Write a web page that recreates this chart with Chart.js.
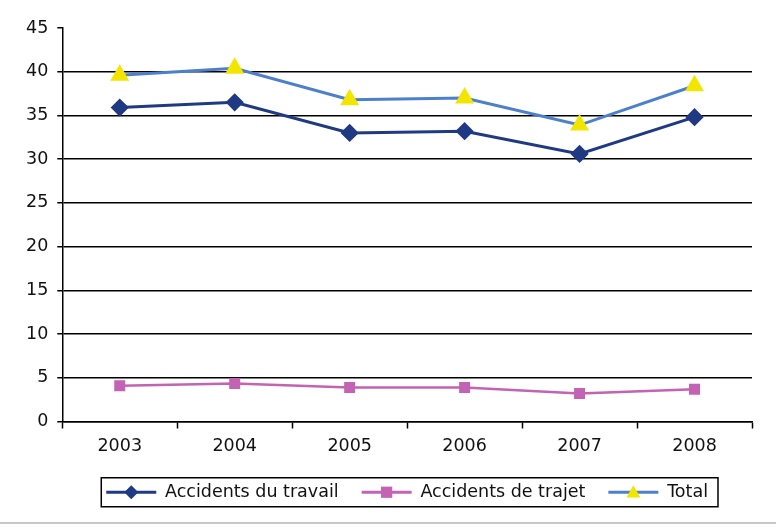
<!DOCTYPE html>
<html lang="fr">
<head>
<meta charset="UTF-8">
<title>Accidents du travail et de trajet</title>
<script src="https://cdn.jsdelivr.net/npm/chart.js@4.4.1/dist/chart.umd.min.js"></script>
<style>
    body {
        margin: 0;
        background: #fff;
    }
    #wrap {
        width: 776px;
        height: 532px;
    }
</style>
</head>
<body>
<div id="wrap"><canvas id="chart" width="776" height="532"></canvas></div>
<script>
const years = ['2003', '2004', '2005', '2006', '2007', '2008'];
const travail = [35.9, 36.5, 33.0, 33.2, 30.6, 34.8];
const trajet = [4.1, 4.35, 3.9, 3.9, 3.2, 3.7];
const total = [39.6, 40.4, 36.8, 37.0, 33.9, 38.4];
const seriesNames = ['Accidents du travail', 'Accidents de trajet', 'Total'];

const navy = '#1f3a82';
const pink = '#c462b4';
const steel = '#4d80cc';
const yellow = '#f2e600';
const fontName = 'DejaVu Sans';

// draws a small marker for the legend (line + point look)
function drawMarker(ctx, style, x, y, r, color) {
    ctx.fillStyle = color;
    ctx.beginPath();
    if (style === 'rectRot') {
        ctx.moveTo(x, y - r);
        ctx.lineTo(x + r, y);
        ctx.lineTo(x, y + r);
        ctx.lineTo(x - r, y);
    } else if (style === 'rect') {
        ctx.rect(x - r * 0.8, y - r * 0.8, r * 1.6, r * 1.6);
    } else {
        ctx.moveTo(x, y - r);
        ctx.lineTo(x + r, y + r * 0.75);
        ctx.lineTo(x - r, y + r * 0.75);
    }
    ctx.closePath();
    ctx.fill();
}

const legendDeco = {
    id: 'legendDeco',
    afterDraw(chart) {
        const ctx = chart.ctx;
        const lg = chart.legend;
        const boxes = lg.legendHitBoxes;
        const bw = lg.options.labels.boxWidth;
        ctx.save();
        let cy = 0;
        boxes.forEach((b, i) => {
            const ds = chart.data.datasets[i];
            cy = b.top + b.height / 2;
            ctx.strokeStyle = ds.borderColor;
            ctx.lineWidth = 3;
            ctx.beginPath();
            ctx.moveTo(b.left, cy);
            ctx.lineTo(b.left + bw, cy);
            ctx.stroke();
            drawMarker(ctx, ds.pointStyle, b.left + bw / 2, cy, 7, ds.pointBackgroundColor);
        });
        const first = boxes[0];
        const last = boxes[boxes.length - 1];
        ctx.strokeStyle = '#000';
        ctx.lineWidth = 1.5;
        ctx.strokeRect(first.left - 5, cy - 14.5, last.left + last.width + 15 - first.left, 29);

        // light rule at the bottom of the figure
        ctx.strokeStyle = '#c8c8c8';
        ctx.lineWidth = 2;
        ctx.beginPath();
        ctx.moveTo(0, 523);
        ctx.lineTo(chart.width, 523);
        ctx.stroke();
        ctx.restore();
    }
};

new Chart(document.getElementById('chart'), {
    type: 'line',
    data: {
        labels: years,
        datasets: [
            {
                label: seriesNames[0],
                data: travail,
                borderColor: navy,
                borderWidth: 3,
                pointStyle: 'rectRot',
                pointRadius: 7,
                pointBackgroundColor: navy,
                pointBorderColor: navy,
                tension: 0
            },
            {
                label: seriesNames[1],
                data: trajet,
                borderColor: pink,
                borderWidth: 2.5,
                pointStyle: 'rect',
                pointRadius: 6,
                pointBackgroundColor: pink,
                pointBorderColor: pink,
                tension: 0
            },
            {
                label: seriesNames[2],
                data: total,
                borderColor: steel,
                borderWidth: 3,
                pointStyle: 'triangle',
                pointRadius: 8,
                pointBackgroundColor: yellow,
                pointBorderColor: yellow,
                tension: 0
            }
        ]
    },
    options: {
        responsive: false,
        animation: false,
        layout: {
            padding: { top: 28, left: 17, right: 24, bottom: 21 }
        },
        plugins: {
            tooltip: { enabled: false },
            legend: {
                position: 'bottom',
                fullSize: false,
                labels: {
                    font: { family: fontName, size: 17.5 },
                    color: '#111',
                    boxWidth: 50,
                    boxHeight: 14,
                    padding: 23,
                    generateLabels(chart) {
                        return chart.data.datasets.map((ds, i) => ({
                            text: ds.label,
                            fillStyle: 'rgba(0,0,0,0)',
                            strokeStyle: 'rgba(0,0,0,0)',
                            lineWidth: 0,
                            hidden: false,
                            datasetIndex: i,
                            fontColor: '#111'
                        }));
                    }
                }
            }
        },
        scales: {
            x: {
                offset: true,
                grid: {
                    offset: true,
                    drawOnChartArea: false,
                    drawTicks: true,
                    tickLength: 7,
                    tickColor: '#000',
                    tickWidth: 1.5
                },
                border: { color: '#000', width: 1.5 },
                ticks: {
                    color: '#111',
                    font: { family: fontName, size: 17.5 },
                    padding: 7
                },
                afterFit(scale) {
                    scale.height = 39;
                }
            },
            y: {
                min: 0,
                max: 45,
                grid: {
                    color: ctx => (ctx.tick && ctx.tick.value === 45) ? 'rgba(0,0,0,0)' : '#000',
                    lineWidth: 1.5,
                    tickColor: '#000',
                    tickLength: 5,
                    tickWidth: 1.5
                },
                border: { color: '#000', width: 1.5 },
                ticks: {
                    stepSize: 5,
                    color: '#111',
                    font: { family: fontName, size: 17.5 },
                    padding: 9
                }
            }
        }
    },
    plugins: [legendDeco]
});
</script>
</body>
</html>
